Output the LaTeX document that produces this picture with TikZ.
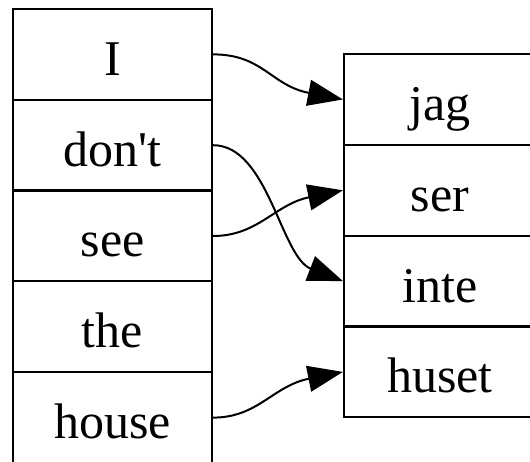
\documentclass[tikz,border=0pt]{standalone}
\usepackage{fontspec}
\setmainfont{Liberation Serif}
\usetikzlibrary{arrows.meta}

\tikzset{
  cell/.style={draw, line width=2.2pt, rectangle, inner sep=0pt,
    minimum height=90.8pt, text height=42pt, text depth=0pt,
    font=\fontsize{50}{60}\selectfont},
  lcell/.style={cell, minimum width=199pt},
  rcell/.style={cell, minimum width=192pt},
  link/.style={line width=2pt, -{Triangle[length=35pt,width=26pt]}}
}

\begin{document}
\begin{tikzpicture}[x=1pt, y=-1pt]
  \path[use as bounding box, clip] (0,0) rectangle (530,462);

  % English record
  \node[lcell] (en1) at (112.5, 54.4) {I};
  \node[lcell] (en2) at (112.5,145.2) {don\textquotesingle t};
  \node[lcell] (en3) at (112.5,236.0) {see};
  \node[lcell] (en4) at (112.5,326.8) {the};
  \node[lcell] (en5) at (112.5,417.6) {house};

  % Swedish record
  \node[rcell] (sv1) at (440, 99.5) {jag};
  \node[rcell] (sv2) at (440,190.3) {ser};
  \node[rcell] (sv3) at (440,281.1) {inte};
  \node[rcell] (sv4) at (440,371.9) {huset};

  % word alignments
  \draw[link] (en1.east) .. controls +(50,0) and +(-72,-14) .. (sv1.west);
  \draw[link] (en2.east) .. controls +(55,0) and +(-62,-24) .. (sv3.west);
  \draw[link] (en3.east) .. controls +(45,0) and +(-68,14) .. (sv2.west);
  \draw[link] (en5.east) .. controls +(45,0) and +(-70,14) .. (sv4.west);
\end{tikzpicture}
\end{document}
